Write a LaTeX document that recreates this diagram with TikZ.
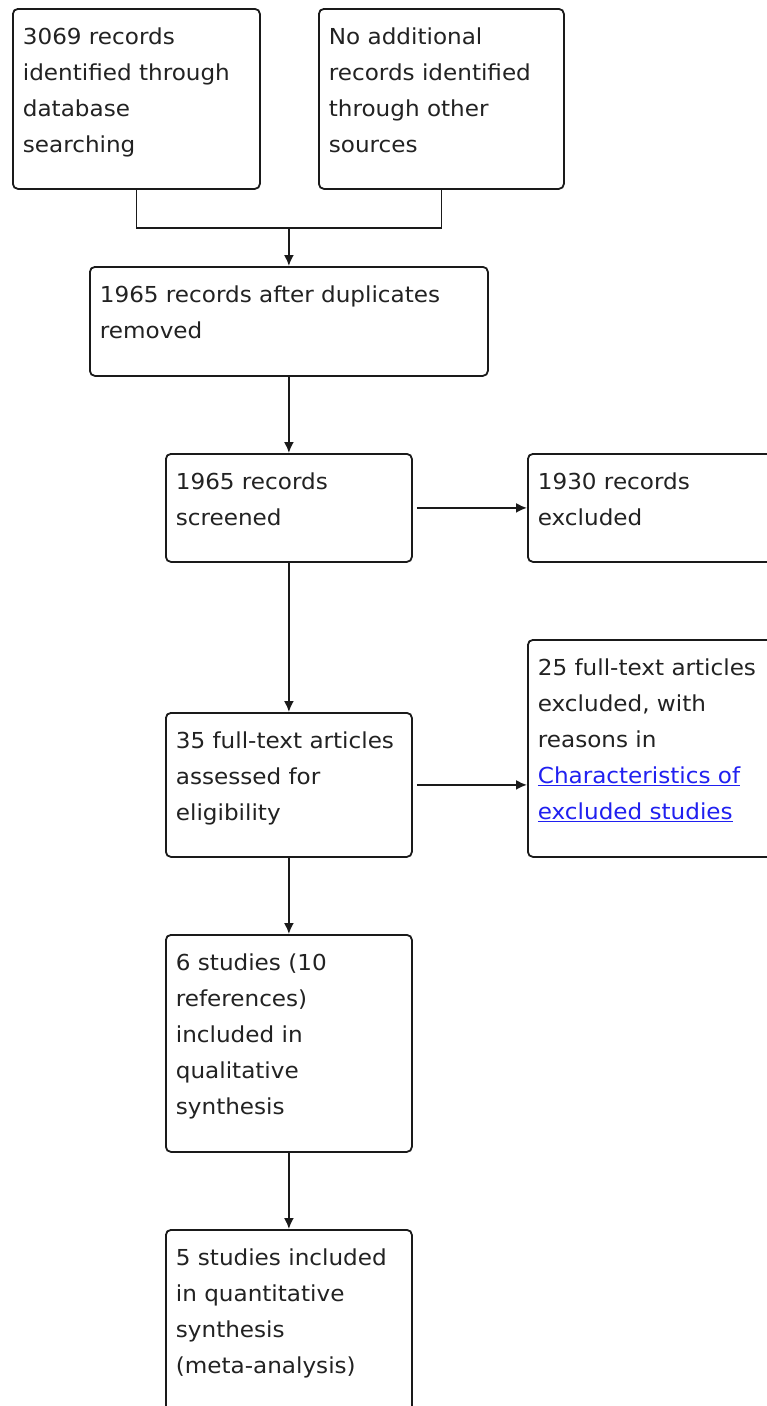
\documentclass[tikz,border=0pt]{standalone}
\usepackage{fontspec}
\setmainfont{DejaVu Sans}[FakeStretch=1.05]
\usetikzlibrary{arrows.meta}
\definecolor{ink}{HTML}{1A1A1A}
\definecolor{txt}{HTML}{222222}
\definecolor{linkblue}{HTML}{2020F0}
\newcommand{\boxtext}[3]{\parbox[c][#2pt][t]{#1pt}{\raggedright\fontsize{22pt}{36pt}\selectfont\color{txt}\rule{0pt}{36pt}#3}}
\tikzset{
  flowbox/.style={draw=ink, line width=1.8pt, rounded corners=5pt, inner xsep=10pt, inner ysep=0pt, anchor=north west, fill=white},
  flowarrow/.style={draw=ink, line width=1.8pt, -{Latex[length=11pt,width=10pt]}},
  flowline/.style={draw=ink, line width=1.8pt},
}
\begin{document}
\begin{tikzpicture}[x=1pt,y=-1pt]
\useasboundingbox (0,0) rectangle (767,1406);
\clip (0,0) rectangle (767,1406);
\fill[white] (0,0) rectangle (767,1406);
\node[flowbox] (A) at (12,8) {\boxtext{227}{180}{3069 records\\identified through\\database\\searching}};
\node[flowbox] (B) at (318,8) {\boxtext{225}{180}{No additional\\records identified\\through other\\sources}};
\node[flowbox] (C) at (89,266) {\boxtext{378}{109}{1965 records after duplicates\\removed}};
\node[flowbox] (D) at (165,453) {\boxtext{226}{108}{1965 records\\screened}};
\node[flowbox] (E) at (527,453) {\boxtext{240}{108}{1930 records\\excluded}};
\node[flowbox] (F) at (165,712) {\boxtext{226}{144}{35 full-text articles\\assessed for\\eligibility}};
\node[flowbox] (G) at (527,639) {\boxtext{240}{217}{25 full-text articles\\excluded, with\\reasons in\\\textcolor{linkblue}{\underline{Characteristics of}}\\\textcolor{linkblue}{\underline{excluded studies}}}};
\node[flowbox] (H) at (165,934) {\boxtext{226}{217}{6 studies (10\\references)\\included in\\qualitative\\synthesis}};
\node[flowbox] (I) at (165,1229) {\boxtext{226}{210}{5 studies included\\in quantitative\\synthesis\\(meta-analysis)}};
\coordinate (J) at (C.north |- 0,228);
\draw[flowline] (A.south) |- (J);
\draw[flowline] (B.south) |- (J);
\draw[flowarrow] (J) -- (C.north);
\draw[flowarrow] (C.south) -- (D.north);
\draw[flowarrow, shorten <=4pt] (D.east) -- (E.west);
\draw[flowarrow] (D.south) -- (F.north);
\draw[flowarrow, shorten <=4pt] (F.east) -- (F.east -| G.west);
\draw[flowarrow] (F.south) -- (H.north);
\draw[flowarrow] (H.south) -- (I.north);
\end{tikzpicture}
\end{document}
